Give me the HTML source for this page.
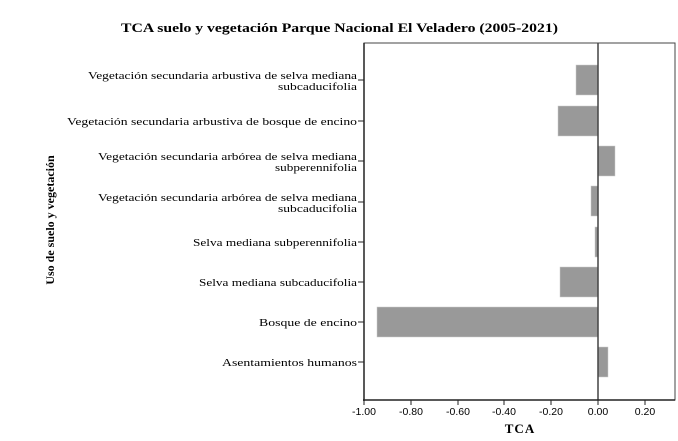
<!DOCTYPE html><html><head><style>body{margin:0;background:#fff}svg{display:block}</style></head><body>
<svg width="678" height="441" xmlns="http://www.w3.org/2000/svg" font-family="Liberation Serif, serif">
<rect width="678" height="441" fill="#fff"/>
<text x="121" y="32" font-size="13" font-weight="bold" textLength="437" lengthAdjust="spacingAndGlyphs">TCA suelo y vegetación Parque Nacional El Veladero (2005-2021)</text>
<rect x="364" y="43" width="311" height="357" fill="none" stroke="#444" stroke-width="1"/>
<g fill="#999" stroke="#ccc" stroke-width="0.5">
<rect x="576" y="65" width="22" height="30"/>
<rect x="558" y="106" width="40" height="30"/>
<rect x="598" y="146" width="17" height="30"/>
<rect x="591" y="186" width="7" height="30"/>
<rect x="595" y="227" width="3" height="30"/>
<rect x="560" y="267" width="38" height="30"/>
<rect x="377" y="307" width="221" height="30"/>
<rect x="598" y="347" width="10" height="30"/>
</g>
<line x1="598" y1="43" x2="598" y2="400" stroke="#444" stroke-width="1.5"/>
<line x1="364" y1="43" x2="364" y2="401" stroke="#222" stroke-width="1.5"/>
<line x1="363" y1="400" x2="675" y2="400" stroke="#222" stroke-width="1.5"/>
<g stroke="#222" stroke-width="1">
<line x1="358" y1="80" x2="364" y2="80"/><line x1="358" y1="121" x2="364" y2="121"/><line x1="358" y1="161" x2="364" y2="161"/><line x1="358" y1="202" x2="364" y2="202"/><line x1="358" y1="242" x2="364" y2="242"/><line x1="358" y1="282" x2="364" y2="282"/><line x1="358" y1="322" x2="364" y2="322"/><line x1="358" y1="362" x2="364" y2="362"/>
<line x1="364" y1="400" x2="364" y2="405"/><line x1="411" y1="400" x2="411" y2="405"/><line x1="458" y1="400" x2="458" y2="405"/><line x1="504" y1="400" x2="504" y2="405"/><line x1="551" y1="400" x2="551" y2="405"/><line x1="598" y1="400" x2="598" y2="405"/><line x1="645" y1="400" x2="645" y2="405"/>
</g>
<g font-size="10.5">
<text x="88" y="79" textLength="269" lengthAdjust="spacingAndGlyphs">Vegetación secundaria arbustiva de selva mediana</text><text x="278" y="90" textLength="79" lengthAdjust="spacingAndGlyphs">subcaducifolia</text>
<text x="67" y="125" textLength="290" lengthAdjust="spacingAndGlyphs">Vegetación secundaria arbustiva de bosque de encino</text>
<text x="98" y="160" textLength="259" lengthAdjust="spacingAndGlyphs">Vegetación secundaria arbórea de selva mediana</text><text x="275" y="171" textLength="82" lengthAdjust="spacingAndGlyphs">subperennifolia</text>
<text x="98" y="201" textLength="259" lengthAdjust="spacingAndGlyphs">Vegetación secundaria arbórea de selva mediana</text><text x="278" y="212" textLength="79" lengthAdjust="spacingAndGlyphs">subcaducifolia</text>
<text x="193" y="246" textLength="164" lengthAdjust="spacingAndGlyphs">Selva mediana subperennifolia</text>
<text x="199" y="286" textLength="158" lengthAdjust="spacingAndGlyphs">Selva mediana subcaducifolia</text>
<text x="259" y="326" textLength="98" lengthAdjust="spacingAndGlyphs">Bosque de encino</text>
<text x="222" y="366" textLength="135" lengthAdjust="spacingAndGlyphs">Asentamientos humanos</text>
</g>
<g font-size="10.5" text-anchor="middle" font-family="Liberation Sans, sans-serif">
<text x="364" y="415">-1.00</text><text x="411" y="415">-0.80</text><text x="458" y="415">-0.60</text><text x="504" y="415">-0.40</text><text x="551" y="415">-0.20</text><text x="598" y="415">0.00</text><text x="645" y="415">0.20</text>
</g>
<text x="520" y="433" text-anchor="middle" font-size="13" font-weight="bold" letter-spacing="1">TCA</text>
<text transform="translate(54,220) rotate(-90)" text-anchor="middle" font-size="12" font-weight="bold">Uso de suelo y vegetación</text>
</svg></body></html>
